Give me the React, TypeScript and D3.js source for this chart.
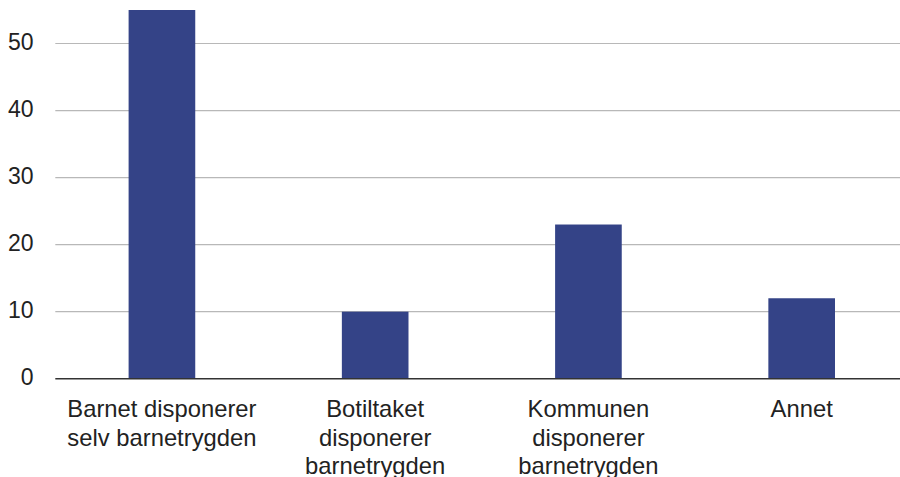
import React from "react";
import * as d3 from "d3";

const categories = [
  "Barnet disponerer\nselv barnetrygden",
  "Botiltaket\ndisponerer\nbarnetrygden",
  "Kommunen\ndisponerer\nbarnetrygden",
  "Annet",
];
const values = [55, 10, 23, 12];
const yTicks = [0, 10, 20, 30, 40, 50];

const W = 900;
const H = 477;

export default function App() {
  const x = d3
    .scaleBand<string>()
    .domain(categories)
    .range([55.3, 908.3])
    .paddingInner(0.6875)
    .paddingOuter(0.34375);
  const y = d3.scaleLinear().domain([0, 55]).range([378.7, 10]);

  return (
    <svg
      width={W}
      height={H}
      style={{ position: "absolute", left: 0, top: 0 }}
      fontFamily="'Liberation Sans', Arial, sans-serif"
    >
      <rect width={W} height={H} fill="#fff" />
      {yTicks
        .filter((t) => t !== 0)
        .map((t) => (
          <line
            key={"g" + t}
            x1={55.3}
            x2={W}
            y1={y(t)}
            y2={y(t)}
            stroke="#b8b8b8"
            strokeWidth={1.2}
          />
        ))}
      {yTicks.map((t) => (
        <text
          key={"t" + t}
          x={33.5}
          y={y(t)}
          textAnchor="end"
          dominantBaseline="middle"
          fontSize={23}
          fill="#222"
        >
          {t}
        </text>
      ))}
      {categories.map((c, i) => (
        <rect
          key={"b" + i}
          x={x(c)}
          y={y(values[i])}
          width={x.bandwidth()}
          height={y(0) - y(values[i])}
          fill="#344387"
        />
      ))}
      <line x1={55.3} x2={W} y1={y(0)} y2={y(0)} stroke="#333" strokeWidth={1.4} />
      {categories.map((c, i) => (
        <text
          key={"c" + i}
          x={(x(c) as number) + x.bandwidth() / 2}
          y={417.3}
          textAnchor="middle"
          fontSize={23.8}
          fill="#222"
        >
          {c.split("\n").map((ln, j) => (
            <tspan key={j} x={(x(c) as number) + x.bandwidth() / 2} dy={j === 0 ? 0 : 28.4}>
              {ln}
            </tspan>
          ))}
        </text>
      ))}
    </svg>
  );
}
